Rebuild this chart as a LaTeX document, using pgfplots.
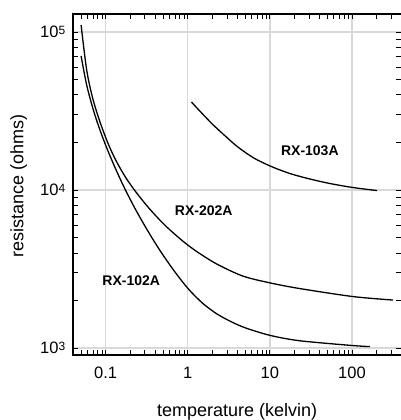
\documentclass[border=0pt]{standalone}
\usepackage{fontspec}
\setmainfont{Liberation Sans}
\usepackage{pgfplots}
\pgfplotsset{compat=1.18}

\pgfplotstableread{
T R
0.0502 110700
0.0587 57480
0.0694 38220
0.0845 27340
0.1058 19980
0.1324 15490
0.1754 12000
0.2388 9572
0.344 7581
0.524 6005
0.799 4932
1.0578 4390
1.4007 3963
2.258 3401
4.686 2855
10.28 2578
23.22 2379
102.8 2118
316.2 2013
}\rxtwo

\pgfplotstableread{
T R
0.0502 70480
0.0587 46190
0.0714 31620
0.0869 23280
0.1058 17860
0.1324 13580
0.1705 10235
0.2195 7920
0.2827 6254
0.3743 4897
0.4956 3901
0.714 2983
1.0285 2351
1.5236 1918
2.258 1646
3.44 1461
5.243 1332
10.28 1200
23.22 1112
102.8 1037
165.8 1022
}\rxone

\pgfplotstableread{
T R
1.1094 36060
1.4007 31623
2.018 25970
2.907 21810
4.073 18720
6.380 15940
10.43 14085
17.54 12720
30.74 11740
53.9 10995
102.8 10370
201.8 9927
}\rxthree

\begin{document}
\begin{tikzpicture}
\begin{axis}[
  scale only axis,
  width=328.4pt, height=341pt,
  xmode=log, ymode=log,
  xmin=0.04, xmax=400,
  ymin=904, ymax=130000,
  axis line style={draw=none},
  clip=false,
  tick align=inside,
  major tick length=5pt, minor tick length=5pt,
  every tick/.style={black, line width=0.8pt},
  grid=major,
  major grid style={draw=gray!30, line width=1.3pt},
  minor grid style={draw=none},
  xtick={0.1,1,10,100}, xticklabels={0.1,1,10,100},
  minor xtick={0.05,0.06,0.07,0.08,0.09,0.2,0.3,0.4,0.5,0.6,0.7,0.8,0.9,2,3,4,5,6,7,8,9,20,30,40,50,60,70,80,90,200,300},
  ytick={1000,10000,100000},
  minor ytick={2000,3000,4000,5000,6000,7000,8000,9000,20000,30000,40000,50000,60000,70000,80000,90000},
  yticklabels={10\raisebox{3.5pt}{\fontsize{12}{12}\selectfont 3},10\raisebox{3.5pt}{\fontsize{12}{12}\selectfont 4},10\raisebox{3.5pt}{\fontsize{12}{12}\selectfont 5}},
  tick label style={font=\fontsize{16.5}{18}\selectfont},
  xticklabel style={yshift=-8.5pt},
  yticklabel style={anchor=base east, yshift=-5.9pt, xshift=-4.2pt},
  xlabel={temperature (kelvin)},
  ylabel={resistance (ohms)},
  every axis x label/.style={at={(axis description cs:0.5,-0.1672)}, anchor=center, font=\fontsize{18}{20}\selectfont},
  every axis y label/.style={at={(axis description cs:-0.165,0.4956)}, anchor=center, rotate=90, font=\fontsize{18}{20}\selectfont},
]
\addplot[black, line width=1.3pt, smooth] table[x=T, y=R] {\rxtwo};
\addplot[black, line width=1.3pt, smooth] table[x=T, y=R] {\rxone};
\addplot[black, line width=1.3pt, smooth] table[x=T, y=R] {\rxthree};
\node[font=\bfseries\fontsize{14}{14}\selectfont] at (axis cs:30.7,17750) {RX-103A};
\node[font=\bfseries\fontsize{14}{14}\selectfont] at (axis cs:1.567,7360) {RX-202A};
\node[font=\bfseries\fontsize{14}{14}\selectfont] at (axis cs:0.205,2655) {RX-102A};
\draw[black, line width=2.7pt, line join=miter] (rel axis cs:1,1) -- (rel axis cs:0,1) -- (rel axis cs:0,0) -- (rel axis cs:1,0);
\coordinate (sw) at (rel axis cs:0,0);
\end{axis}
\pgfresetboundingbox
\path ([xshift=-73pt,yshift=-65pt]sw) rectangle ([xshift=328pt,yshift=355pt]sw);
\end{tikzpicture}
\end{document}
